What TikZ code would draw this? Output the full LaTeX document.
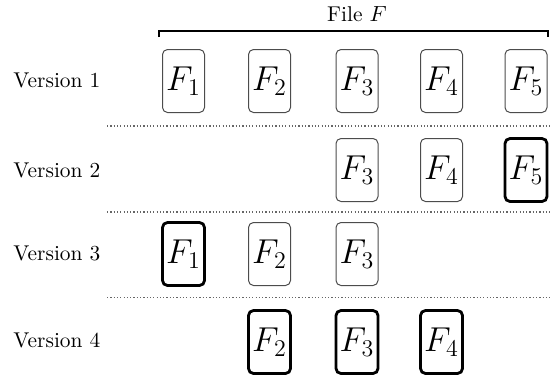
\documentclass[tikz,border=0pt]{standalone}
\usepackage{amsmath}
\usepackage{tikz}
\usetikzlibrary{calc}

\begin{document}
\begin{tikzpicture}[x=0.5pt, y=-0.5pt,
  blk/.style={draw, rounded corners=2.5pt, minimum width=21pt, minimum height=31.5pt, inner sep=0pt, font=\fontsize{18.5}{22}\selectfont},
  blkold/.style={blk, line width=0.5pt, draw=black!70},
  blknew/.style={blk, line width=1.4pt},
  ver/.style={anchor=west, inner sep=0pt, font=\fontsize{10.7}{13}\selectfont},
  sep/.style={draw=black!60, line width=0.6pt, dash pattern=on 0.6pt off 1.05pt}]
\useasboundingbox (0,0) rectangle (556,381);
% file bracket
\node[font=\fontsize{10.7}{13}\selectfont] (file) at (357,14) {File $F$};
\coordinate (bl) at (159,37);
\coordinate (br) at (548,37);
\draw[line width=1pt] (bl) -- ++(0,-6.5) -| (br);
% version labels
\node[ver] (ver1) at (13,80) {Version 1};
\node[ver] (ver2) at (13,170) {Version 2};
\node[ver] (ver3) at (13,253) {Version 3};
\node[ver] (ver4) at (13,340) {Version 4};
% version 1
\node[blkold] (v1f1) at (183.5,81) {$F_1$};
\node[blkold] (v1f2) at (269.5,81) {$F_2$};
\node[blkold] (v1f3) at (357,81) {$F_3$};
\node[blkold] (v1f4) at (441.5,81) {$F_4$};
\node[blkold] (v1f5) at (526,81) {$F_5$};
% version 2
\node[blkold] (v2f3) at (357,170) {$F_3$};
\node[blkold] (v2f4) at (441.5,170) {$F_4$};
\node[blknew] (v2f5) at (526,170) {$F_5$};
% version 3
\node[blknew] (v3f1) at (183.5,254) {$F_1$};
\node[blkold] (v3f2) at (269.5,254) {$F_2$};
\node[blkold] (v3f3) at (357,254) {$F_3$};
% version 4
\node[blknew] (v4f2) at (269.5,342) {$F_2$};
\node[blknew] (v4f3) at (357,342) {$F_3$};
\node[blknew] (v4f4) at (441.5,342) {$F_4$};
% separators
\coordinate (s1l) at (107,126); \coordinate (s1r) at (550,126);
\coordinate (s2l) at (107,212); \coordinate (s2r) at (550,212);
\coordinate (s3l) at (107,297.5); \coordinate (s3r) at (550,297.5);
\draw[sep] (s1l) -- (s1r);
\draw[sep] (s2l) -- (s2r);
\draw[sep] (s3l) -- (s3r);
\end{tikzpicture}
\end{document}
